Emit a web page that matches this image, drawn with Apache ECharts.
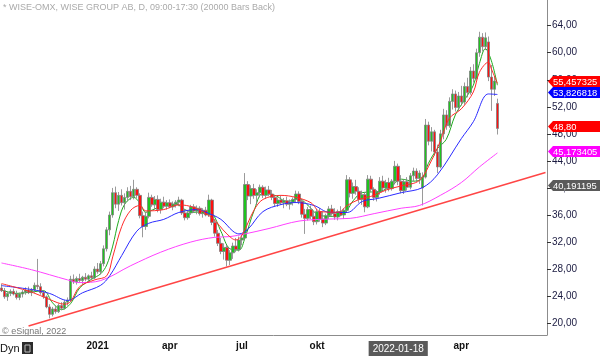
<!DOCTYPE html>
<html><head><meta charset="utf-8">
<script src="https://cdn.jsdelivr.net/npm/echarts@6/dist/echarts.min.js"></script>
<style>html,body{margin:0;padding:0;background:#fff}#c{width:600px;height:356px}</style>
</head><body><div id="c"></div>
<script>
// ---- data ----
const TOTAL_SLOTS = 182;
const categories = Array.from({length: TOTAL_SLOTS}, (_, i) => String(i));
const openP = [25.2,24.8,23.9,24.4,24.7,24.3,23.8,24.3,24.6,24.9,
24.5,24.9,25.6,25.4,24.5,23.9,22.4,21.3,22.1,21.7,
22.6,22.2,23.1,23.4,26.5,26.1,26.6,26.3,26.8,26.5,
27.0,26.7,28.0,27.6,28.8,31.0,33.8,36.0,39.3,37.6,
38.9,37.8,38.6,39.5,38.7,39.8,38.9,35.9,34.3,35.8,
38.6,37.5,38.3,36.8,37.9,37.3,37.8,37.2,37.6,37.9,
38.2,36.3,35.6,36.3,37.2,36.6,37.0,36.2,36.7,36.0,
38.2,34.9,33.3,31.8,30.6,31.2,29.3,30.4,31.4,30.9,
32.3,32.6,40.5,38.8,39.9,38.9,39.3,40.1,38.9,39.7,
39.1,38.6,37.7,38.2,37.8,38.1,37.6,37.9,38.3,39.1,
38.0,36.1,35.5,36.8,35.8,35.0,36.5,35.4,34.8,35.9,
36.9,36.2,35.7,36.5,36.0,36.7,41.2,39.2,40.2,39.5,
38.3,39.0,37.2,41.3,39.8,38.6,39.4,41.0,40.0,40.8,
39.9,41.0,43.2,41.0,39.6,40.9,40.1,41.8,42.5,41.4,
40.0,41.6,49.3,46.9,48.3,45.3,43.1,48.0,50.8,49.2,
52.8,53.9,51.9,53.6,52.7,55.0,54.1,57.3,56.2,60.0,
62.3,60.9,61.6,56.4,54.6,52.5];
const highP = [25.8,25.2,24.6,25.0,25.1,24.8,24.5,24.9,25.3,25.4,
25.2,26.0,29.5,25.9,24.9,24.1,22.8,22.4,22.6,22.9,
23.1,23.4,23.8,27.0,27.2,26.9,27.3,27.0,27.4,27.2,
27.6,28.4,28.9,29.2,31.5,34.2,36.5,40.0,40.2,39.4,
39.8,39.2,40.1,40.3,41.2,40.1,39.2,36.5,36.4,39.3,
39.0,38.8,38.9,38.4,38.7,38.2,38.3,38.0,38.2,38.7,
38.4,36.9,36.7,37.5,37.6,37.4,37.3,37.0,37.2,39.0,
38.4,35.4,33.8,32.6,31.8,31.6,30.8,31.9,32.6,32.8,
33.2,42.2,41.0,40.4,40.6,39.8,40.5,40.4,40.2,40.3,
39.7,38.9,38.6,38.8,38.5,38.7,38.3,38.6,39.6,39.5,
38.3,36.9,37.2,37.4,36.6,36.9,37.0,36.5,36.2,37.3,
37.5,37.0,36.8,37.3,37.0,41.9,41.6,40.8,41.2,40.1,
39.6,39.4,41.9,41.8,40.1,39.7,41.6,41.8,41.2,41.5,
41.3,44.0,43.6,41.9,41.3,41.6,42.2,43.0,42.9,42.6,
42.3,50.2,49.8,49.0,48.6,46.4,48.6,51.7,51.5,53.4,
54.6,54.4,54.2,55.1,55.6,56.3,57.9,58.3,60.6,63.1,
62.9,63.0,62.4,58.2,56.5,53.2];
const lowP = [24.6,23.6,23.3,24.0,24.1,23.5,23.4,23.8,24.2,24.3,
24.0,24.5,25.0,24.2,23.6,22.2,20.7,21.0,21.4,21.5,
21.9,22.0,22.6,23.2,25.8,25.7,26.0,25.8,26.2,26.0,
26.4,26.5,27.3,27.2,28.4,30.6,33.0,35.6,37.0,36.6,
37.4,36.8,38.0,38.2,38.3,38.5,35.5,32.7,33.8,35.5,
37.2,36.8,36.4,36.2,37.0,36.8,37.0,36.7,37.1,37.3,
36.0,35.2,35.3,36.0,36.3,36.1,35.9,35.6,35.8,35.7,
34.5,32.8,31.4,30.2,29.4,28.4,28.6,29.5,30.5,30.6,
31.5,32.4,38.2,37.6,38.4,37.5,38.6,38.5,38.4,38.8,
38.2,37.3,37.2,37.5,37.0,37.3,36.8,37.4,37.9,37.6,
35.6,33.2,35.2,35.4,34.5,34.6,35.0,34.2,34.5,35.4,
35.9,35.3,35.2,35.8,35.4,36.5,38.6,38.4,39.0,37.8,
37.5,36.4,37.0,39.4,38.1,38.0,39.0,39.6,39.3,39.5,
39.6,40.5,40.4,39.2,39.1,39.6,39.8,41.0,40.9,40.6,
37.4,41.4,46.3,45.4,44.8,42.2,42.9,47.2,48.6,48.9,
51.6,51.3,51.4,52.2,52.3,53.4,53.8,55.6,56.0,59.4,
60.2,60.4,55.8,51.4,53.6,47.9];
const closeP = [24.8,23.9,24.4,24.7,24.3,23.8,24.3,24.6,24.9,24.5,
24.9,25.6,25.4,24.5,23.9,22.4,21.3,22.1,21.7,22.6,
22.2,23.1,23.4,26.5,26.1,26.6,26.3,26.8,26.5,27.0,
26.7,28.0,27.6,28.8,31.0,33.8,36.0,39.3,37.6,38.9,
37.8,38.6,39.5,38.7,39.8,38.9,35.9,34.3,35.8,38.6,
37.5,38.3,36.8,37.9,37.3,37.8,37.2,37.6,37.9,38.2,
36.3,35.6,36.3,37.2,36.6,37.0,36.2,36.7,36.0,38.2,
34.9,33.3,31.8,30.6,31.2,29.3,30.4,31.4,30.9,32.3,
32.6,40.5,38.8,39.9,38.9,39.3,40.1,38.9,39.7,39.1,
38.6,37.7,38.2,37.8,38.1,37.6,37.9,38.3,39.1,38.0,
36.1,35.5,36.8,35.8,35.0,36.5,35.4,34.8,35.9,36.9,
36.2,35.7,36.5,36.0,36.7,41.2,39.2,40.2,39.5,38.3,
39.0,37.2,41.3,39.8,38.6,39.4,41.0,40.0,40.8,39.9,
41.0,43.2,41.0,39.6,40.9,40.1,41.8,42.5,41.4,42.2,
41.6,49.3,46.9,48.3,45.3,43.1,48.0,50.8,49.2,52.8,
53.9,51.9,53.6,52.7,55.0,54.1,57.3,56.2,60.0,62.3,
60.9,62.2,56.4,54.6,55.8,48.8];

// moving average lines, read as [bar index, value]
const maRed = [[0,25.85],[10,24.6],[16,23.5],[21,22.8],[23,23.2],[26,25.4],[31,26.4],[35,27.0],[37,29.8],[40,34.3],[43,36.7],[46,37.4],[48,36.6],[54,36.8],[59,37.5],[64,37.1],[70,35.6],[75,33.2],[78,32.3],[80,33.0],[84,36.7],[87,38.3],[93,38.9],[98,38.6],[103,37.8],[106,36.5],[112,36.4],[115,37.4],[119,38.3],[124,38.9],[128,39.7],[133,40.3],[139,41.1],[143,44.0],[146,46.9],[149,50.3],[153,51.7],[157,54.2],[159,57.1],[162,58.6],[163,57.6],[165,55.457325]];
const maBlue = [[0,25.55],[10,24.97],[16,24.39],[22,23.36],[27,24.5],[33,25.6],[36,27.0],[40,30.0],[45,33.6],[49,34.77],[54,35.35],[59,36.37],[65,36.8],[68,36.4],[73,35.35],[77,33.6],[79,33.2],[82,33.9],[87,36.5],[93,37.54],[98,37.84],[104,37.4],[109,36.4],[115,36.37],[120,38.0],[125,38.42],[133,39.3],[140,40.03],[145,41.93],[153,47.3],[157,49.8],[162,53.9],[165,53.826818]];
const maMagenta = [[0,28.9],[10,27.9],[22,26.4],[26,26.0],[33,26.3],[43,28.5],[53,30.5],[63,32.0],[71,32.7],[76,32.8],[81,33.2],[89,34.0],[99,35.1],[109,35.4],[116,35.5],[124,36.2],[133,37.0],[139,37.4],[146,38.9],[153,40.8],[159,43.1],[165,45.173405]];
const maGreen = [[0,24.9],[5,24.4],[10,24.6],[14,24.8],[17,23.0],[20,22.0],[23,22.9],[26,25.2],[30,26.5],[33,27.3],[35,28.6],[37,31.4],[39,35.2],[41,37.6],[44,38.6],[46,37.8],[48,36.4],[51,36.9],[54,37.4],[58,37.6],[61,36.8],[64,36.4],[68,36.5],[70,36.3],[73,33.6],[76,31.0],[79,30.8],[81,32.6],[84,36.6],[87,39.2],[91,38.9],[95,38.0],[99,38.4],[102,37.4],[106,35.9],[110,35.8],[114,36.2],[117,38.1],[120,39.3],[123,39.4],[126,39.5],[130,40.4],[133,41.3],[137,41.0],[140,41.4],[142,43.6],[145,45.8],[148,47.2],[151,50.8],[154,53.0],[157,55.2],[159,58.4],[161,60.6],[163,58.8],[165,55.2]];
const trendLine = [[9,19.58],[181,42.27]];

// tick labels
const xTickIdx = [32,56,80,105,129,153];
const xLabels = {32:'2021',56:'apr',80:'jul',105:'okt',132:'2022-01-18',153:'apr'};
const cursorIdx = 132;
const yTicks = [20,24,28,32,36,40,44,48,52,56,60,64];

// price tags on right
const tagValues = [55.457325,53.826818,48.80,45.173405,40.191195];
const tagTexts = ['55,457325','53,826818','48,80','45,173405','40,191195'];
const tagColors = ['#ff0000','#0000ff','#ff0000','#ff00ff','#5a5a5a'];

const ohlc = openP.map((o,i)=>[o, closeP[i], lowP[i], highP[i]]);
const xLabelIdx = Object.keys(xLabels).map(Number);

const chart = echarts.init(document.getElementById('c'), null, {renderer:'canvas'});
const lineS = (data, color, z) => ({type:'line', data, symbol:'none', smooth:0.35, z,
  lineStyle:{width:1, color}, silent:true});
chart.setOption({
  animation:false,
  grid:{left:0, right:53, top:0, bottom:17},
  xAxis:{type:'category', data:categories, boundaryGap:true,
    axisLine:{lineStyle:{color:'#8c8c8c', width:1}},
    axisTick:{alignWithLabel:true, inside:true, length:3, interval:(i)=>xTickIdx.includes(i), lineStyle:{color:'#666'}},
    axisLabel:{interval:(i)=>xLabelIdx.includes(i), formatter:(v,i)=> i===cursorIdx ? '{hl|'+xLabels[i]+'}' : xLabels[i],
      color:'#111', fontWeight:'bold', fontSize:10, fontFamily:'Arial', margin:6,
      rich:{hl:{backgroundColor:'#5a5a5a', color:'#fff', fontWeight:'normal', fontSize:10, fontFamily:'Arial', padding:[3,4,2,4]}}},
    splitLine:{show:false}},
  yAxis:{type:'value', position:'right', min:18.246, max:67.8,
    splitLine:{show:false},
    axisLine:{show:true, lineStyle:{color:'#8c8c8c'}},
    axisTick:{show:true, customValues:yTicks, length:4, lineStyle:{color:'#333'}},
    axisLabel:{customValues:yTicks, formatter:(v)=>v.toFixed(2).replace('.',','), color:'#1a1a40', fontSize:10, fontFamily:'Arial', margin:5}},
  series:[
    lineS(maGreen,'#1faa1f',1),
    {type:'candlestick', data:ohlc, barWidth:3, z:2, silent:true,
      itemStyle:{color:'#1fc41f', color0:'#ff1010', borderColor:'#808080', borderColor0:'#808080', borderWidth:0.8}},
    lineS(maMagenta,'#ff40ff',3),
    lineS(maBlue,'#2a2aff',3),
    lineS(maRed,'#ff2a2a',3),
    {type:'line', data:trendLine, symbol:'none', z:4, silent:true, lineStyle:{width:1.5, color:'#ff4545'}}
  ]
});

const gx = 547;
const statics = [
  {id:'title', type:'text', x:3, y:3, style:{text:'* WISE-OMX, WISE GROUP AB, D, 09:00-17:30 (20000 Bars Back)', fill:'#aaaaaa', font:'9px Arial'}},
  {id:'copy', type:'text', x:2, y:327, style:{text:'\u00a9 eSignal, 2022', fill:'#777777', font:'9px Arial'}},
  {id:'dyn', type:'text', x:0, y:343, style:{text:'Dyn', fill:'#111111', font:'11px Arial'}},
  {id:'ico', type:'rect', shape:{x:22, y:342, width:11, height:12}, style:{fill:'#2b2b2b'}},
  {id:'ico2', type:'rect', shape:{x:25, y:345, width:5, height:7}, style:{fill:'none', stroke:'#bbbbbb', lineWidth:1}}
];
const tagEls = [];
tagValues.forEach((v,k)=>{
  const y = Math.round(chart.convertToPixel({yAxisIndex:0}, v)) - 1.5;
  tagEls.push({id:'tagbg'+k, type:'polygon', z:100, shape:{points:[[gx+1,y],[gx+6,y-5.5],[600,y-5.5],[600,y+5.5],[gx+6,y+5.5]]}, style:{fill:tagColors[k]}});
  tagEls.push({id:'tagtx'+k, type:'text', z:101, x:gx+6, y:y+0.5, style:{text:tagTexts[k], fill:'#ffffff', font:'9.4px Arial', verticalAlign:'middle'}});
});
chart.setOption({graphic: statics.concat(tagEls)});
</script>
</body></html>
